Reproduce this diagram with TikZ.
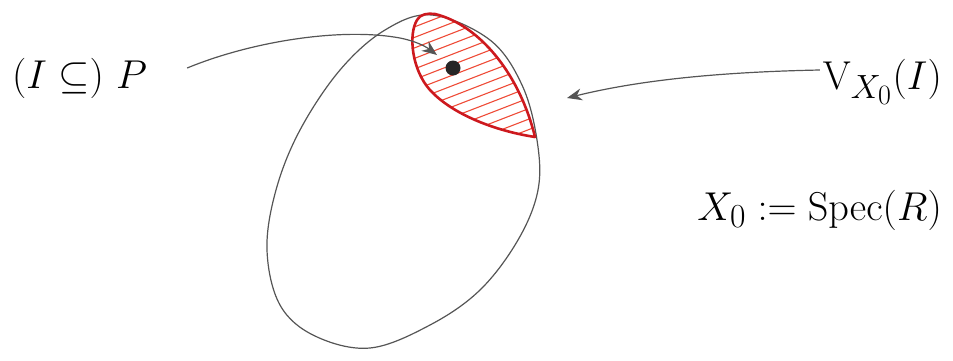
\documentclass[tikz,border=0pt]{standalone}
\usepackage{amsmath}
\usepackage{amssymb}
\usetikzlibrary{arrows.meta}

\definecolor{pencilgray}{RGB}{85,85,85}
\definecolor{lensred}{RGB}{205,25,30}
\definecolor{hatchred}{RGB}{238,75,55}
\newcommand{\lensshape}{(417,20) .. controls (420,14) and (428,13) .. (435,14)
	.. controls (480,25) and (520,75) .. (535,137)
	.. controls (490,130) and (450,112) .. (430,90)
	.. controls (412,70) and (408,35) .. (417,20)}
\newcommand{\biglabel}[1]{\scalebox{1.62}{$#1$}}

\begin{document}
\begin{tikzpicture}[x=1pt,y=-1pt]
			\tikzstyle{every node}+=[inner sep=0pt, font=\Huge]
			\tikzstyle{pencil}=[draw=pencilgray, line width=1.2pt]
			\tikzstyle{hatch}=[draw=hatchred, line width=1.1pt]
			\tikzstyle{lensline}=[draw=lensred, line width=2.6pt, line join=round]
			\useasboundingbox (0,0) rectangle (953,360);
			% labels
			\node [anchor=west] (P) at (12,78) {\biglabel{(I \subseteq)\ P}};
			\node [anchor=east] (V) at (942,82) {\biglabel{\mathrm{V}_{X_0}(I)}};
			\node [anchor=east] (X) at (942,210) {\biglabel{X_0 := \mathrm{Spec}(R)}};
			\coordinate (pt) at (453,68);
			\coordinate (tipP) at (437,55);
			\coordinate (tipV) at (567,98);
			% the big loop
			\draw [pencil] plot [smooth cycle, tension=0.6] coordinates {(432,15) (490,40) (522,85)
				(537,140) (538,190) (518,240) (480,290) (430,325) (370,348) (315,336) (280,305)
				(267,250) (276,190) (300,130) (340,70) (385,30)};
			% hatched region
			\begin{scope}
				\clip \lensshape;
				\foreach \k in {0,...,17}
					\draw [hatch] (400,22+10.5*\k) -- ++(160,-62);
			\end{scope}
			\draw [lensline] \lensshape;
			% arrows
			\draw [pencil, -{Stealth[length=15pt, width=12pt]}] ([xshift=40pt, yshift=10pt]P.east)
				.. controls (250,42) and (340,27) .. (400,38) .. controls (415,41) and (425,46) .. (tipP);
			\draw [pencil, -{Stealth[length=15pt, width=12pt]}] ([xshift=-3pt, yshift=12pt]V.west)
				.. controls (720,72) and (640,80) .. (tipV);
			\fill [black!85] (pt) circle (7.5);
		\end{tikzpicture}
\end{document}
